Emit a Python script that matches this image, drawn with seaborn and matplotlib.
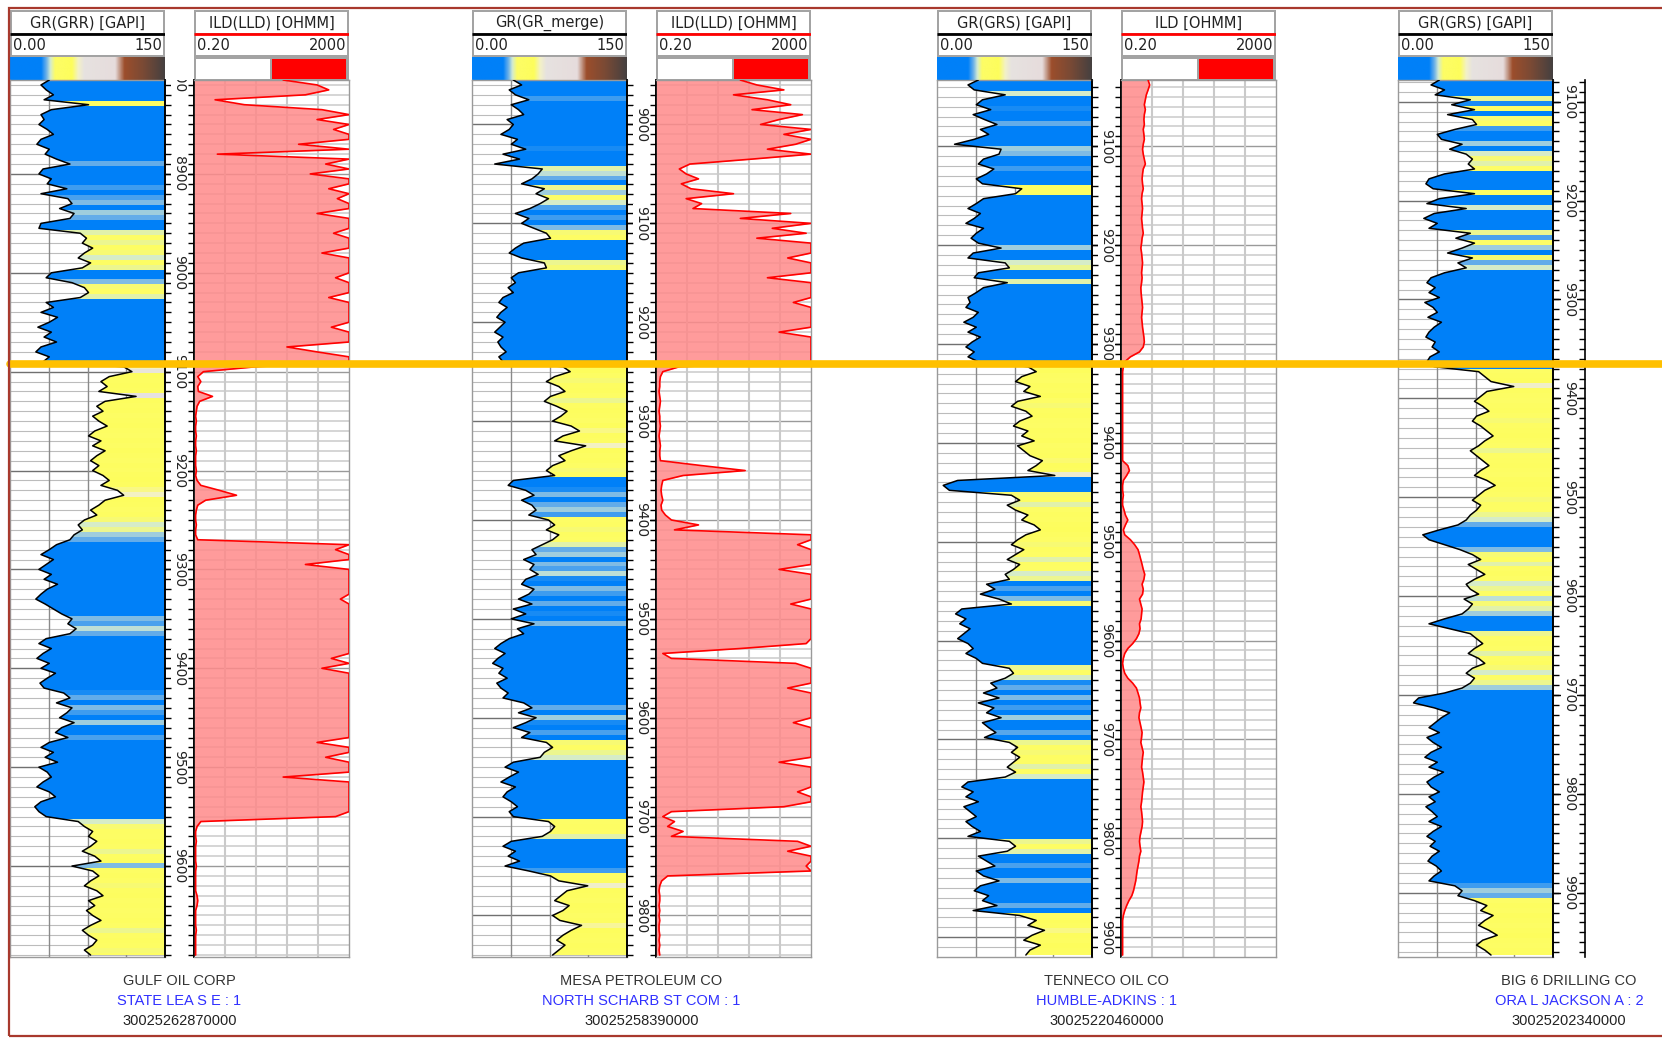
import numpy as np
import matplotlib
matplotlib.use("Agg")
import matplotlib.pyplot as plt
from matplotlib.colors import LinearSegmentedColormap, Normalize
from matplotlib.patches import Rectangle, Polygon
from matplotlib.lines import Line2D
import seaborn as sns

sns.set_style("white")
plt.rcParams["font.family"] = ["DejaVu Sans"]

# ---- well data, samples every 5 ft from the track top ----
companies = ["GULF OIL CORP", "MESA PETROLEUM CO", "TENNECO OIL CO", "BIG 6 DRILLING CO"]
leases = ["STATE LEA S E : 1", "NORTH SCHARB ST COM : 1", "HUMBLE-ADKINS : 1", "ORA L JACKSON A : 2"]
apis = ["30025262870000", "30025258390000", "30025220460000", "30025202340000"]
gr_titles = ["GR(GRR) [GAPI]", "GR(GR_merge)", "GR(GRS) [GAPI]", "GR(GRS) [GAPI]"]
ild_titles = ["ILD(LLD) [OHMM]", "ILD(LLD) [OHMM]", "ILD [OHMM]", None]
well_tops = [8805, 8955, 9033, 9078]   # depth at top of track, ft
STEP = 5

gr_gulf = [38, 30, 35, 42, 33, 76,
           40, 30, 33, 28, 36, 42, 30, 26, 38, 34,
           45, 58, 32, 28, 40, 36, 55, 30,
           56, 60, 48, 62, 58, 30, 28,
           68, 74, 70, 80, 72, 66, 78, 70,
           40, 35, 60,
           72, 76, 68,
           35, 42, 30, 46, 38, 27, 40, 33, 45, 30, 25, 38, 32,
           110, 118, 96, 88, 94, 86, 122, 92, 84, 90,
           80, 86, 94, 82, 76, 88, 80, 92, 84, 78,
           86, 80, 90, 96, 88, 104, 110, 92, 86, 78,
           84, 72, 66, 70, 62, 58,
           45, 38, 30, 42, 35, 28, 40, 33, 46, 36, 30, 25, 34, 42, 50,
           60, 56, 64, 58,
           35, 28, 40, 32, 26, 38, 30, 44, 36, 29, 33,
           52, 58, 45, 60, 55, 48, 62, 50, 44, 56,
           38, 30, 42, 34, 46, 28, 36, 40, 32, 26, 38, 44, 30, 24, 28, 35,
           66, 72, 80, 76, 84, 78, 70, 82, 88, 60, 80, 86, 78, 72,
           84, 90, 76, 82, 74, 80, 88, 78, 70, 76, 84, 80, 72, 78]

ild_gulf = [40, 300, 600, 150, 0.7, 4, 400, 2000, 300, 2000,
            800, 2000, 2000, 100, 2000, 0.8, 2000, 500, 2000, 200,
            2000, 2000, 600, 2000, 1000, 2000, 2000, 300, 2000, 2000,
            2000, 800, 2000, 2000, 2000, 400, 2000, 2000, 2000, 2000,
            900, 2000, 2000, 2000, 600, 2000, 2000, 2000, 2000, 2000,
            700, 2000, 2000, 2000, 50, 300, 2000, 2000,
            8, 0.35, 0.25, 0.3, 0.25, 0.26, 0.6, 0.28, 0.24, 0.23,
            0.22, 0.23, 0.22, 0.22, 0.23, 0.22, 0.22, 0.23, 0.22, 0.22,
            0.22, 0.23, 0.22, 0.24, 0.3, 0.9, 2.5, 0.4, 0.25, 0.23, 0.22, 0.22, 0.23, 0.22, 0.22, 0.25,
            2000, 900, 2000, 2000, 150, 2000, 2000, 2000, 2000, 2000,
            2000, 1200, 2000, 2000, 2000, 2000, 2000, 2000, 2000, 2000,
            2000, 2000, 2000, 700, 2000, 400, 2000, 2000, 2000, 2000,
            2000, 2000, 2000, 2000, 2000, 2000, 2000, 2000, 2000, 2000,
            300, 2000, 2000, 500, 2000, 2000, 2000, 40, 2000, 2000,
            2000, 2000, 2000, 2000, 2000, 900,
            0.3, 0.24, 0.22, 0.22, 0.23, 0.22, 0.22, 0.22, 0.22, 0.23,
            0.22, 0.22, 0.22, 0.22, 0.22, 0.24, 0.25, 0.24, 0.22, 0.22,
            0.22, 0.22, 0.23, 0.22, 0.22, 0.22, 0.22, 0.22]

gr_mesa = [40, 48, 36, 42, 55, 38, 45, 50, 34, 40, 36, 28, 44, 38, 52, 30, 46,
           22, 68, 64, 58, 48,
           70, 62, 74, 66, 56,
           42, 55, 48, 60,
           72, 76, 50,
           42, 36, 48, 70,
           72, 45, 38, 42, 35, 40,
           30, 26, 34, 28, 24, 32, 27, 22, 30, 25, 28, 33, 26, 30,
           88, 95, 80, 72, 84, 90, 76, 70, 82, 92, 86, 78, 96, 104, 88, 80, 110, 96, 84, 90, 78, 72, 80,
           40, 35, 52, 60, 48, 58, 62, 55,
           74, 80, 72, 84, 78, 68,
           58, 62, 50, 60, 56, 64, 52, 48, 60, 55,
           45, 58, 40, 52, 38, 60, 44, 50, 36,
           28, 22, 32, 25, 20, 30, 26, 34, 24, 28, 35, 30,
           50, 58, 45, 62, 52, 40, 56, 48,
           72, 78, 70, 66,
           40, 32, 45, 36, 28, 42, 34, 30, 38, 44, 36, 40,
           74, 80, 76, 68,
           38, 30, 42, 35, 46, 32, 55,
           76, 84, 112, 92, 86, 80, 94, 88, 78, 85, 106, 96, 88, 82, 90, 84, 78]

ild_mesa = [30, 80, 400, 20, 150, 600, 60, 1200, 300, 100, 2000, 400, 2000, 800, 150, 2000, 60,
            1.5, 0.8, 1.2, 2.5, 0.9, 1.6, 20, 1.2, 3, 1.8,
            600, 30, 2000, 200, 1500, 80, 2000,
            2000, 2000, 500, 2000, 2000, 2000, 150, 2000, 2000, 2000, 2000, 700,
            2000, 2000, 2000, 2000, 2000, 300, 2000, 2000, 2000, 2000, 2000, 2000,
            0.8, 0.3, 0.26, 0.25, 0.25, 0.24, 0.25, 0.26, 0.25, 0.24,
            0.25, 0.25, 0.26, 0.25, 0.24, 0.25, 0.26, 0.25, 0.25, 0.26,
            3, 40, 1,
            0.3, 0.28, 0.27, 0.28, 0.3, 0.27, 0.28, 0.35, 0.5, 2.5, 0.6,
            2000, 2000, 900, 2000, 2000, 2000, 2000, 300, 2000, 2000, 2000, 2000,
            2000, 2000, 600, 2000, 2000, 2000, 2000, 2000, 2000, 2000, 1500,
            30, 0.3, 0.5, 800,
            2000, 2000, 2000, 2000, 500, 2000, 2000, 2000, 2000, 2000, 2000, 700, 2000, 2000, 2000,
            2000, 2000, 2000, 2000, 300, 2000, 2000, 2000, 2000, 2000, 900, 2000, 2000, 400,
            0.5, 0.3, 0.6, 0.4, 1, 0.5,
            900, 2000, 500, 2000, 2000, 1500, 2000,
            0.4, 0.28, 0.25, 0.24, 0.25, 0.25, 0.24, 0.25, 0.24, 0.25, 0.24, 0.24, 0.25, 0.24, 0.25, 0.24, 0.25]

gr_tenneco = [40, 30, 36, 66, 44, 38, 52, 35, 46, 58, 42, 50, 36,
              17, 62, 60, 45, 40, 55, 48, 38, 44,
              82, 76, 45, 38,
              30, 42, 36, 28, 45, 38, 33, 40, 62, 35, 30, 66,
              70, 40, 36, 68, 45, 38, 30,
              32, 28, 40, 35, 26, 38, 30, 42, 34, 28, 36, 30, 40,
              88, 96, 82, 76, 90, 84, 100, 78, 72, 86, 92, 80, 74, 88, 82, 94, 78, 84, 90, 102, 96, 88, 114,
              20, 6, 12,
              72, 80, 68, 76, 88, 82, 94, 100, 86, 78, 72, 84, 76, 68, 80, 74, 66, 70,
              48, 56, 42, 60,
              72,
              24, 18, 28, 22, 32, 26, 20, 30, 35, 28, 38, 44,
              70, 74, 66,
              52, 58, 45, 60, 40, 55, 48, 62, 44, 50, 57, 46,
              70, 78, 72, 80, 74, 68, 76, 66,
              30, 24, 35, 28, 40, 26, 32, 38, 28, 34, 42, 30,
              70, 76, 68,
              40, 48, 56, 38, 45, 60, 42, 36, 50, 44, 58, 35,
              80, 96, 88, 104, 92, 84, 100, 90, 86]

ild_tenneco = [1.0, 1.1, 1.0, 0.9, 0.85, 0.8, 0.85, 0.8, 0.78, 0.8,
               0.75, 0.78, 0.8, 0.75, 0.72, 0.75, 0.8, 0.85, 0.75, 0.72,
               0.7, 0.72, 0.75, 0.7, 0.68, 0.7, 0.72, 0.7, 0.68, 0.7,
               0.72, 0.75, 0.7, 0.68, 0.65, 0.68, 0.7, 0.72, 0.7, 0.68,
               0.7, 0.68, 0.65, 0.66, 0.68, 0.7, 0.72, 0.7, 0.68, 0.7,
               0.72, 0.75, 0.78, 0.8, 0.75, 0.6, 0.35, 0.25,
               0.23, 0.22, 0.22, 0.22, 0.22, 0.22, 0.22, 0.22, 0.22, 0.22,
               0.22, 0.22, 0.22, 0.22, 0.22, 0.22, 0.22, 0.22, 0.22, 0.22,
               0.3, 0.33, 0.28, 0.23, 0.22, 0.22, 0.23, 0.22, 0.22, 0.24, 0.26, 0.3, 0.26, 0.23, 0.25,
               0.35, 0.45, 0.55, 0.6, 0.65, 0.7, 0.75, 0.82, 0.78, 0.7, 0.75, 0.72, 0.6,
               0.65, 0.7, 0.68, 0.66, 0.6, 0.62, 0.58, 0.5, 0.4, 0.3, 0.25, 0.23,
               0.22, 0.23, 0.25, 0.3, 0.4,
               0.5, 0.55, 0.6, 0.62, 0.65, 0.6, 0.58, 0.62, 0.66, 0.7,
               0.68, 0.65, 0.7, 0.75, 0.72, 0.7, 0.68, 0.72, 0.75, 0.78,
               0.75, 0.72, 0.7, 0.68, 0.65, 0.68, 0.7, 0.72, 0.7, 0.66,
               0.62, 0.6, 0.62, 0.65, 0.6, 0.58, 0.55, 0.52, 0.5, 0.48,
               0.45, 0.42, 0.38, 0.32, 0.28,
               0.25, 0.23, 0.22, 0.22, 0.22, 0.22, 0.22, 0.22, 0.22, 0.22]

gr_big6 = [40, 32, 45, 36,
           70, 52, 74, 48, 72, 76, 55,
           38, 42, 62, 50, 66,
           72, 68, 74, 45,
           30, 27, 34,
           74, 40, 28, 66, 35, 25, 38, 30,
           70, 56, 74, 62, 48, 72, 58, 66, 45,
           32, 28, 36, 30, 40, 26, 34, 38, 29, 42, 35, 30, 27, 36, 33, 40, 31, 28, 35,
           78, 84, 90, 112, 86, 80, 74, 82, 88, 76, 72, 80, 86, 92, 84, 78,
           70, 76, 82, 88, 80, 74, 86, 94, 84, 78, 72, 80, 76, 70, 66, 58,
           40, 24, 30, 45, 60,
           72, 80, 68, 76, 84, 74, 66, 70, 78, 64, 72, 68, 62,
           45, 30, 50,
           70, 76, 82, 74, 68, 78, 84, 72, 66, 74, 70, 62,
           45, 20, 15, 35, 50, 42,
           36, 30, 40, 28, 34, 42, 32, 26, 38, 30, 44, 35, 28, 32, 40, 30, 36,
           27, 33, 38, 30, 42, 34, 28, 36, 31, 40, 33, 29, 37, 42, 35, 30,
           55, 62, 58,
           74, 86, 80, 92, 84, 78, 88, 96, 82, 76, 84, 90]

gr_data = [gr_gulf, gr_mesa, gr_tenneco, gr_big6]
ild_data = [ild_gulf, ild_mesa, ild_tenneco, None]

# ---- layout (pixels) ----
W, H = 1662, 1038
TRACK_TOP, TRACK_BOT = 80, 957
HEAD_TOP = 10
SPAN = 887
GR_W, ILD_W = 155, 155
depth_w = [29, 29, 29, 32]
well_x = [10, 472, 937, 1398]

gr_cmap = LinearSegmentedColormap.from_list("gr", [
    (0.00, "#0080f8"), (0.20, "#0080f8"), (0.235, "#6fb2e8"), (0.26, "#d3ebd2"),
    (0.29, "#fdfd66"), (0.40, "#fdfd5c"), (0.44, "#f3f1c6"), (0.48, "#e6e2e0"),
    (0.68, "#e6dcdc"), (0.74, "#9c4e2c"), (0.86, "#7a4a35"), (1.00, "#454040")])
fill_norm = Normalize(0, 250)

fig = plt.figure(figsize=(W / 100, H / 100), dpi=100)


def px_axes(x0, y0, x1, y1):
    return fig.add_axes([x0 / W, 1 - y1 / H, (x1 - x0) / W, (y1 - y0) / H])


def header(x0, w, title, line_color, lo, hi, kind):
    ax = px_axes(x0, HEAD_TOP, x0 + w, TRACK_TOP)
    ax.add_patch(Rectangle((0, 0), w, 70, color="#a3a3a3", lw=0, zorder=1))
    ax.add_patch(Rectangle((2, 2), w - 4, 20.5, color="white", lw=0, zorder=2))
    ax.add_patch(Rectangle((2, 25), w - 4, 20, color="white", lw=0, zorder=2))
    ax.text(w / 2, 13, title, ha="center", va="center", fontsize=10.5, color="#222222", zorder=3)
    ax.plot([0, w], [23.5, 23.5], color=line_color, lw=2, solid_capstyle="butt", zorder=4)
    ax.text(3, 35.5, lo, ha="left", va="center", fontsize=10.5, color="#222222", zorder=3)
    ax.text(w - 3, 35.5, hi, ha="right", va="center", fontsize=10.5, color="#222222", zorder=3)
    if kind == "gr":
        ax.imshow(np.linspace(0, 1, 256)[None, :], cmap=gr_cmap, aspect="auto",
                  extent=[0, w, 70, 47], interpolation="bilinear", zorder=3)
    else:
        ax.add_patch(Rectangle((2, 48.5), w * 0.48, 20, color="white", lw=0, zorder=3))
        ax.add_patch(Rectangle((w * 0.505, 48.5), w * 0.475, 20, color="#ff0000", lw=0, zorder=3))
    ax.set_xlim(0, w)
    ax.set_ylim(70, 0)
    ax.axis("off")


def style_spines(ax, black_side):
    for side, sp in ax.spines.items():
        sp.set_color("black" if side == black_side else "#9a9a9a")
        sp.set_linewidth(1.2 if side == black_side else 1.0)
    ax.set_xticks([])
    ax.set_yticks([])
    ax.set_xlabel("")
    ax.set_ylabel("")


def gr_track(x0, gr, top):
    gr = np.array(gr, dtype=float)
    depth = top + STEP * np.arange(len(gr))
    bottom = top + SPAN
    ax = px_axes(x0, TRACK_TOP, x0 + GR_W, TRACK_BOT)
    for d in np.arange(np.ceil(top / 10) * 10, bottom, 10):
        major = d % 100 == 0
        ax.axhline(d, color="#707070" if major else "#bcbcbc", lw=1.0 if major else 0.8, zorder=1)
    for v in (37.5, 75, 112.5):
        ax.axvline(v, color="#8a8a8a", lw=1.0, zorder=1)
    rgba = gr_cmap(fill_norm(gr))
    im = ax.imshow(rgba[:, None, :], aspect="auto", interpolation="nearest",
                   extent=[0, 150, depth[-1] + STEP / 2, depth[0] - STEP / 2], zorder=2)
    verts = np.column_stack([np.r_[gr, 150, 150], np.r_[depth, depth[-1], depth[0]]])
    clip = Polygon(verts, closed=True, facecolor="none", edgecolor="none")
    ax.add_patch(clip)
    im.set_clip_path(clip)
    sns.lineplot(x=gr, y=depth, orient="y", estimator=None, sort=False, color="black",
                 linewidth=1.1, ax=ax, legend=False, zorder=3)
    ax.set_xlim(0, 150)
    ax.set_ylim(bottom, top)
    style_spines(ax, "right")


def ild_track(x0, ild, top):
    ild = np.array(ild, dtype=float)
    depth = top + STEP * np.arange(len(ild))
    bottom = top + SPAN
    ax = px_axes(x0, TRACK_TOP, x0 + ILD_W, TRACK_BOT)
    ax.set_xscale("log")
    for d in np.arange(np.ceil(top / 10) * 10, bottom, 10):
        major = d % 100 == 0
        ax.axhline(d, color="#9a9a9a" if major else "#d2d2d2", lw=1.0 if major else 1.3, zorder=1)
    for k in range(1, 5):
        ax.axvline(0.2 * 10 ** (0.8 * k), color="#cacaca", lw=1.5, zorder=1)
    ax.fill_betweenx(depth, 0.2, ild, color="#ff8a8a", alpha=0.85, lw=0, zorder=2)
    sns.lineplot(x=ild, y=depth, orient="y", estimator=None, sort=False, color="#ff0000",
                 linewidth=1.2, ax=ax, legend=False, zorder=3)
    ax.set_xlim(0.2, 2000)
    ax.set_ylim(bottom, top)
    style_spines(ax, "left")
    ax.minorticks_off()


def depth_track(x0, w, top):
    bottom = top + SPAN
    ax = px_axes(x0, TRACK_TOP, x0 + w, TRACK_BOT)
    ax.set_xlim(0, 1)
    ax.set_ylim(bottom, top)
    ax.set_yticks(np.arange(np.ceil(top / 10) * 10, bottom, 10))
    ax.set_xticks([])
    ax.tick_params(axis="y", direction="in", length=4, width=1, left=True, right=True,
                   labelleft=False, labelright=False, color="black")
    ax.spines["top"].set_visible(False)
    ax.spines["bottom"].set_visible(False)
    for side in ("left", "right"):
        ax.spines[side].set_linewidth(1.2)
        ax.spines[side].set_color("black")
    ax.patch.set_alpha(0)
    for d in range(int(np.ceil(top / 100)) * 100 - 100, int(bottom) + 1, 100):
        if d < top - 15 or d > bottom + 15:
            continue
        ax.axhline(d, color="black", lw=1.0)
        ax.text(0.5, d, str(d), rotation=270, ha="center", va="center", fontsize=10,
                color="#222222", rotation_mode="anchor", clip_on=True,
                bbox=dict(facecolor="white", edgecolor="none", pad=1.0))


for i in range(4):
    x0 = well_x[i]
    top = well_tops[i]
    header(x0, GR_W, gr_titles[i], "black", "0.00", "150", "gr")
    gr_track(x0, gr_data[i], top)
    depth_track(x0 + GR_W, depth_w[i], top)
    if ild_data[i] is not None:
        xi = x0 + GR_W + depth_w[i]
        header(xi, ILD_W, ild_titles[i], "#ff0000", "0.20", "2000", "ild")
        ild_track(xi, ild_data[i], top)
    cx = x0 + (GR_W + depth_w[i] + ILD_W) / 2
    fig.text(cx / W, 1 - 981 / H, companies[i], ha="center", va="center",
             fontsize=10.5, color="#333333", family="Liberation Sans")
    fig.text(cx / W, 1 - 1001 / H, leases[i], ha="center", va="center",
             fontsize=10.5, color="#3030ff", family="Liberation Sans")
    fig.text(cx / W, 1 - 1021 / H, apis[i], ha="center", va="center",
             fontsize=10.5, color="#222222", family="Liberation Sans")

# datum line and frame
fig.add_artist(Line2D([10 / W, 1.0], [1 - 364.5 / H] * 2, transform=fig.transFigure,
                      color="#ffc000", lw=5.5, zorder=20))
fig.add_artist(Rectangle((9 / W, 1 - 1036 / H), 1.2, (1036 - 8) / H, transform=fig.transFigure,
                         fill=False, edgecolor="#a8392d", lw=1.6, zorder=21))

fig.savefig("out.png", dpi=100)
